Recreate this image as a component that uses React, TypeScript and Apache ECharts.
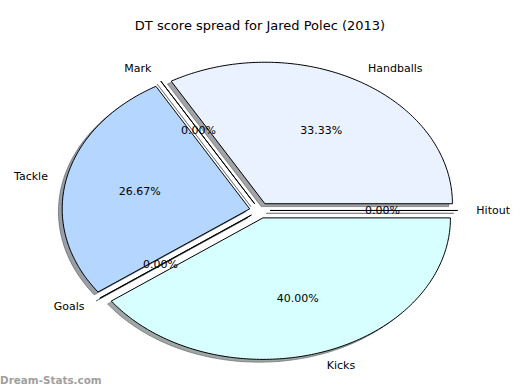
import React, { useEffect, useRef } from 'react';
import * as echarts from 'echarts';

const titleText = 'DT score spread for Jared Polec (2013)';
const watermarkText = 'Dream-Stats.com';
const categories = ['Handballs', 'Mark', 'Tackle', 'Goals', 'Kicks', 'Hitout'];
const values = [10, 0, 8, 0, 12, 0];
const sliceColors = ['#eaf1ff', '#c9d9ff', '#b4d6ff', '#c9e6ff', '#d7ffff', '#e6f0ff'];

const EXPLODE = 0.055;
const LABEL_DIST = 1.1;
const PCT_DIST = 0.6;
const SHADOW_OFF = -0.02;
const FONT = '"DejaVu Sans", sans-serif';

function shadowColor(hex: string) {
  const r = parseInt(hex.slice(1, 3), 16) * 0.3;
  const g = parseInt(hex.slice(3, 5), 16) * 0.3;
  const b = parseInt(hex.slice(5, 7), 16) * 0.3;
  return `rgba(${Math.round(r)},${Math.round(g)},${Math.round(b)},0.5)`;
}

export default function App() {
  const ref = useRef<HTMLDivElement>(null);
  useEffect(() => {
    document.body.style.margin = '0';
    if (!ref.current) return;
    const chart = echarts.init(ref.current, undefined, { renderer: 'svg' });
    const total = values.reduce((a, b) => a + b, 0);
    const starts: number[] = [];
    let acc = 0;
    values.forEach((v) => {
      starts.push(acc);
      acc += v;
    });

    const renderItem = (params: any, api: any) => {
      const i = params.dataIndex;
      const v = api.value(1);
      const t1 = (starts[i] / total) * 360;
      const t2 = t1 + (v / total) * 360;
      const tm = (((t1 + t2) / 2) * Math.PI) / 180;
      const ox = EXPLODE * Math.cos(tm);
      const oy = EXPLODE * Math.sin(tm);
      const n = Math.max(1, Math.ceil(t2 - t1));
      const pts: number[][] = [api.coord([ox, oy])];
      const spts: number[][] = [api.coord([ox + SHADOW_OFF, oy + SHADOW_OFF])];
      for (let k = 0; k <= n; k++) {
        const a = ((t1 + ((t2 - t1) * k) / n) * Math.PI) / 180;
        pts.push(api.coord([ox + Math.cos(a), oy + Math.sin(a)]));
        spts.push(api.coord([ox + SHADOW_OFF + Math.cos(a), oy + SHADOW_OFF + Math.sin(a)]));
      }
      const xt = ox + LABEL_DIST * Math.cos(tm);
      const yt = oy + LABEL_DIST * Math.sin(tm);
      const lp = api.coord([xt, yt]);
      const pp = api.coord([ox + PCT_DIST * Math.cos(tm), oy + PCT_DIST * Math.sin(tm)]);
      const sc = shadowColor(sliceColors[i]);
      return {
        type: 'group',
        children: [
          {
            type: 'polygon',
            z2: 0,
            shape: { points: spts },
            style: { fill: sc, stroke: sc, lineWidth: 1 },
          },
          {
            type: 'polygon',
            z2: 5,
            shape: { points: pts },
            style: { fill: sliceColors[i], stroke: '#000', lineWidth: 1 },
          },
          {
            type: 'text',
            z2: 10,
            x: lp[0],
            y: lp[1],
            style: {
              text: categories[i],
              fill: '#000',
              font: `11px ${FONT}`,
              align: xt > 0 ? 'left' : 'right',
              verticalAlign: 'middle',
            },
          },
          {
            type: 'text',
            z2: 10,
            x: pp[0],
            y: pp[1],
            style: {
              text: ((v / total) * 100).toFixed(2) + '%',
              fill: '#000',
              font: `11px ${FONT}`,
              align: 'center',
              verticalAlign: 'middle',
            },
          },
        ],
      };
    };

    chart.setOption({
      animation: false,
      grid: { left: 25.4, right: 25.85, top: 33.6, bottom: 2.65 },
      xAxis: { type: 'value', min: -1.25, max: 1.25, show: false },
      yAxis: { type: 'value', min: -1.25, max: 1.25, show: false },
      graphic: [
        {
          type: 'text',
          x: 260,
          y: 25,
          style: {
            text: titleText,
            fill: '#000',
            font: `13px ${FONT}`,
            align: 'center',
            verticalAlign: 'middle',
          },
        },
        {
          type: 'text',
          x: 0,
          y: 380,
          style: {
            text: watermarkText,
            fill: '#a0a0a0',
            font: `bold 10.4px ${FONT}`,
            align: 'left',
            verticalAlign: 'middle',
          },
        },
      ],
      series: [
        {
          type: 'custom',
          coordinateSystem: 'cartesian2d',
          renderItem,
          clip: false,
          data: values.map((v, i) => [i, v]),
          encode: { x: 0, y: 1 },
          silent: true,
        },
      ],
    });
    return () => chart.dispose();
  }, []);
  return <div ref={ref} style={{ width: 520, height: 390 }} />;
}
